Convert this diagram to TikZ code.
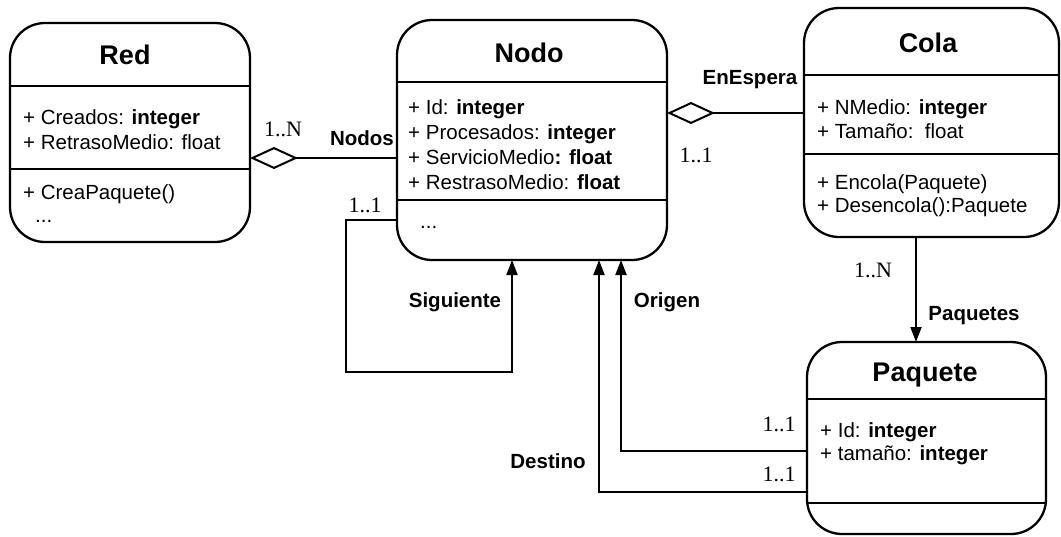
\documentclass[tikz,border=0pt]{standalone}
\usepackage{fontspec}
\setmainfont{Liberation Sans}
\newfontfamily\mulfont{Liberation Serif}
\usetikzlibrary{arrows.meta}
\begin{document}
\begin{tikzpicture}[x=1pt,y=-1pt,
  cls/.style={draw, line width=2.3pt, rounded corners=35pt, inner sep=0pt, outer sep=0pt},
  ttl/.style={font=\bfseries\fontsize{27}{32}\selectfont, inner sep=0pt, text height=19pt, text depth=0pt},
  attr/.style={font=\fontsize{20.5}{24}\selectfont, inner sep=0pt, anchor=west, text height=14.5pt, text depth=0pt},
  sep/.style={line width=2.3pt},
  conn/.style={line width=2pt},
  agg/.style={conn, line join=miter, {Diamond[open, length=48pt, width=22pt]}-},
  nav/.style={conn, -{Triangle[length=15pt, width=11pt]}},
  mult/.style={font=\mulfont\fontsize{22}{26}\selectfont, inner sep=0pt, text height=15pt, text depth=0pt},
  role/.style={font=\bfseries\fontsize{20.5}{24}\selectfont, inner sep=0pt, text height=14.5pt, text depth=0pt}]
\useasboundingbox (0,0) rectangle (1061,536);

% ---------- Red ----------
\node[cls, minimum width=240pt, minimum height=219pt] (red) at (130,132.5) {};
\draw[sep] ([yshift=-63pt]red.north west) -- ([yshift=-63pt]red.north east);
\draw[sep] ([yshift=-146pt]red.north west) -- ([yshift=-146pt]red.north east);
\node[ttl] (redT) at (125,54.5) {Red};
\node[attr] (redA1) at (23,117) {+ Creados: \textbf{integer}};
\node[attr] (redA2) at (23,142) {+ RetrasoMedio: float};
\node[attr] (redM1) at (23,192) {+ CreaPaquete()};
\node[attr] (redM2) at (35,215) {...};

% ---------- Nodo ----------
\node[cls, minimum width=270pt, minimum height=240pt] (nodo) at (532,140) {};
\draw[sep] ([yshift=-62pt]nodo.north west) -- ([yshift=-62pt]nodo.north east);
\draw[sep] ([yshift=-180pt]nodo.north west) -- ([yshift=-180pt]nodo.north east);
\node[ttl] (nodoT) at (529,53) {Nodo};
\node[attr] (nodoA1) at (408,107) {+ Id: \textbf{integer}};
\node[attr] (nodoA2) at (408,132) {+ Procesados: \textbf{integer}};
\node[attr] (nodoA3) at (408,157) {+ ServicioMedio\textbf{: float}};
\node[attr] (nodoA4) at (408,182) {+ RestrasoMedio: \textbf{float}};
\node[attr] (nodoM1) at (420,221) {...};

% ---------- Cola ----------
\node[cls, minimum width=255pt, minimum height=229pt] (cola) at (931.5,122.5) {};
\draw[sep] ([yshift=-67pt]cola.north west) -- ([yshift=-67pt]cola.north east);
\draw[sep] ([yshift=-146pt]cola.north west) -- ([yshift=-146pt]cola.north east);
\node[ttl] (colaT) at (928,43) {Cola};
\node[attr] (colaA1) at (817,107) {+ NMedio: \textbf{integer}};
\node[attr] (colaA2) at (817,131) {+ Tamaño:\ \ float};
\node[attr] (colaM1) at (817,182) {+ Encola(Paquete)};
\node[attr] (colaM2) at (817,205) {+ Desencola():Paquete};

% ---------- Paquete ----------
\node[cls, minimum width=239pt, minimum height=192pt] (paq) at (926.5,438) {};
\draw[sep] ([yshift=-57pt]paq.north west) -- ([yshift=-57pt]paq.north east);
\draw[sep] ([yshift=-161pt]paq.north west) -- ([yshift=-161pt]paq.north east);
\node[ttl] (paqT) at (925,371.5) {Paquete};
\node[attr] (paqA1) at (820,430) {+ Id: \textbf{integer}};
\node[attr] (paqA2) at (820,453) {+ tamaño: \textbf{integer}};

% ---------- Connectors ----------
% Red <>-- Nodo
\draw[agg] ([yshift=-25.5pt]red.east) -- ([yshift=-18pt]nodo.west);
\node[mult] (mRed) at (283,129) {1..N};
\node[role] (rNodos) at (362,138.5) {Nodos};

% Nodo <>-- Cola
\draw[agg] ([yshift=27pt]nodo.east) -- ([yshift=9.5pt]cola.west);
\node[role] (rEsp) at (750,77) {EnEspera};
\node[mult] (mEsp) at (696,155) {1..1};

% Siguiente (self loop)
\coordinate (sigC) at (346,372);
\draw[nav] ([yshift=-80pt]nodo.west) -| (sigC) -| ([xshift=-20pt]nodo.south);
\node[mult] (mSig) at (365,205) {1..1};
\node[role] (rSig) at (455,300) {Siguiente};

% Origen
\draw[nav] ([yshift=-13pt]paq.west) -| ([xshift=89pt]nodo.south);
\node[role] (rOri) at (667,300) {Origen};
\node[mult] (mOri) at (779,424) {1..1};

% Destino
\draw[nav] ([yshift=-54pt]paq.west) -| ([xshift=67pt]nodo.south);
\node[role] (rDes) at (548,461) {Destino};
\node[mult] (mDes) at (779,474) {1..1};

% Cola -> Paquete
\draw[nav] ([xshift=-15.5pt]cola.south) -- ([xshift=-15.5pt]cola.south |- paq.north);
\node[mult] (mPaq) at (873,270) {1..N};
\node[role] (rPaq) at (974,313) {Paquetes};
\end{tikzpicture}
\end{document}
